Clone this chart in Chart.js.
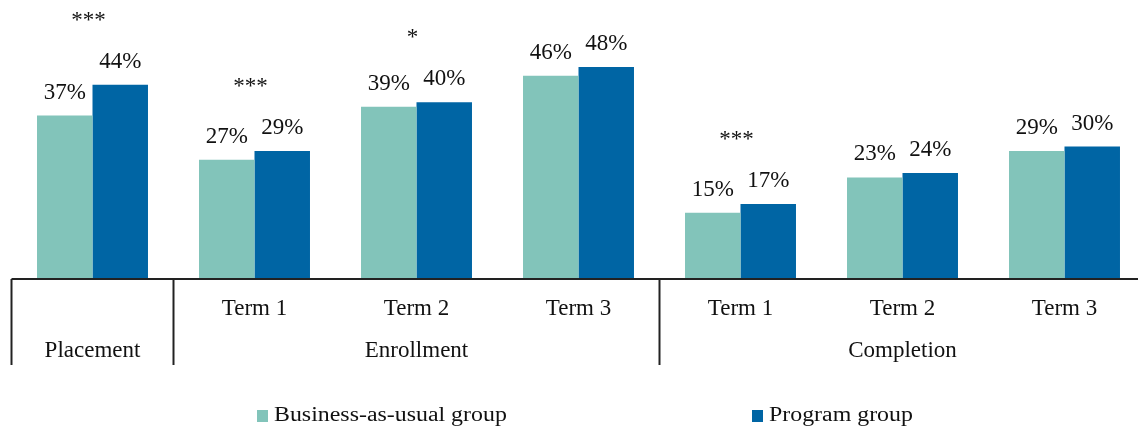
<!DOCTYPE html>
<html>
<head>
<meta charset="utf-8">
<script src="https://cdn.jsdelivr.net/npm/chart.js@4/dist/chart.umd.min.js"></script>
<style>
  html, body { margin: 0; padding: 0; background: #fff; overflow: hidden; }
  #wrap { position: relative; width: 1150px; height: 432px; }
</style>
</head>
<body>
<div id="wrap"><canvas id="chart" width="1150" height="432"></canvas></div>
<script>
// chart data
const tickLabels = ['', 'Term 1', 'Term 2', 'Term 3', 'Term 1', 'Term 2', 'Term 3'];
const groupNames = ['Placement', 'Enrollment', 'Completion'];
const groupSizes = [1, 3, 3];
const bauValues = [37, 27, 39, 46, 15, 23, 29];
const programValues = [44, 29, 40, 48, 17, 24, 30];
const stars = ['***', '***', '*', '', '***', '', ''];
const seriesNames = ['Business-as-usual group', 'Program group'];

const TEAL = 'rgb(130, 196, 186)';
const BLUE = 'rgb(0, 101, 164)';
const SERIF = '"Liberation Serif", "Times New Roman", serif';
const FONT = '23px ' + SERIF;
const INK = '#111';

// draws value labels, significance stars, the two-level axis and the legend
const decorations = {
  id: 'decorations',
  afterDraw(chart) {
    const ctx = chart.ctx;
    const x = chart.scales.x;
    const area = chart.chartArea;
    const base = area.bottom;
    const step = x.getPixelForValue(1) - x.getPixelForValue(0);

    ctx.save();
    ctx.font = FONT;
    ctx.fillStyle = INK;
    ctx.textAlign = 'center';
    ctx.textBaseline = 'middle';

    // value labels
    chart.data.datasets.forEach((ds, di) => {
      chart.getDatasetMeta(di).data.forEach((bar, i) => {
        ctx.fillText(ds.data[i] + '%', bar.x, bar.y - 23);
      });
    });

    // stars above each pair
    stars.forEach((s, i) => {
      if (!s) return;
      const top = Math.min(chart.getDatasetMeta(0).data[i].y, chart.getDatasetMeta(1).data[i].y);
      ctx.fillText(s, x.getPixelForValue(i) - 4, top - 64);
    });

    // axis line
    ctx.strokeStyle = '#222';
    ctx.lineWidth = 2;
    ctx.beginPath();
    ctx.moveTo(x.getPixelForValue(0) - step / 2, base);
    ctx.lineTo(chart.width, base);
    ctx.stroke();

    // tick labels
    tickLabels.forEach((t, i) => {
      if (t) ctx.fillText(t, x.getPixelForValue(i), base + 30);
    });

    // group labels and separators
    let start = 0;
    groupNames.forEach((g, gi) => {
      const end = start + groupSizes[gi] - 1;
      const left = x.getPixelForValue(start) - step / 2;
      const center = (x.getPixelForValue(start) + x.getPixelForValue(end)) / 2;
      ctx.beginPath();
      ctx.moveTo(left, base);
      ctx.lineTo(left, base + 86);
      ctx.stroke();
      ctx.fillText(g, center, base + 72);
      start = end + 1;
    });

    // legend (text is a little wide in the original)
    const legendX = [257, 752];
    ctx.textAlign = 'left';
    ctx.font = '20.5px ' + SERIF;
    chart.data.datasets.forEach((ds, di) => {
      ctx.fillStyle = ds.backgroundColor;
      ctx.fillRect(legendX[di], 410, 11, 12);
      ctx.fillStyle = INK;
      ctx.save();
      ctx.translate(legendX[di] + 17, 416);
      ctx.scale(1.165, 1);
      ctx.fillText(ds.label, 0, 0);
      ctx.restore();
    });
    ctx.restore();
  }
};

new Chart(document.getElementById('chart').getContext('2d'), {
  type: 'bar',
  data: {
    labels: tickLabels.map((t, i) => t || groupNames[0]),
    datasets: [{
      label: seriesNames[0],
      data: bauValues,
      backgroundColor: TEAL,
      categoryPercentage: 0.685,
      barPercentage: 1.0
    }, {
      label: seriesNames[1],
      data: programValues,
      backgroundColor: BLUE,
      categoryPercentage: 0.685,
      barPercentage: 1.0
    }]
  },
  options: {
    responsive: false,
    animation: false,
    layout: { padding: { left: 11.5, right: 4.5, top: 14, bottom: 153 } },
    plugins: {
      legend: { display: false },
      tooltip: { enabled: false }
    },
    scales: {
      x: { display: false },
      y: { display: false, min: 0, max: 60 }
    }
  },
  plugins: [decorations]
});
</script>
</body>
</html>
